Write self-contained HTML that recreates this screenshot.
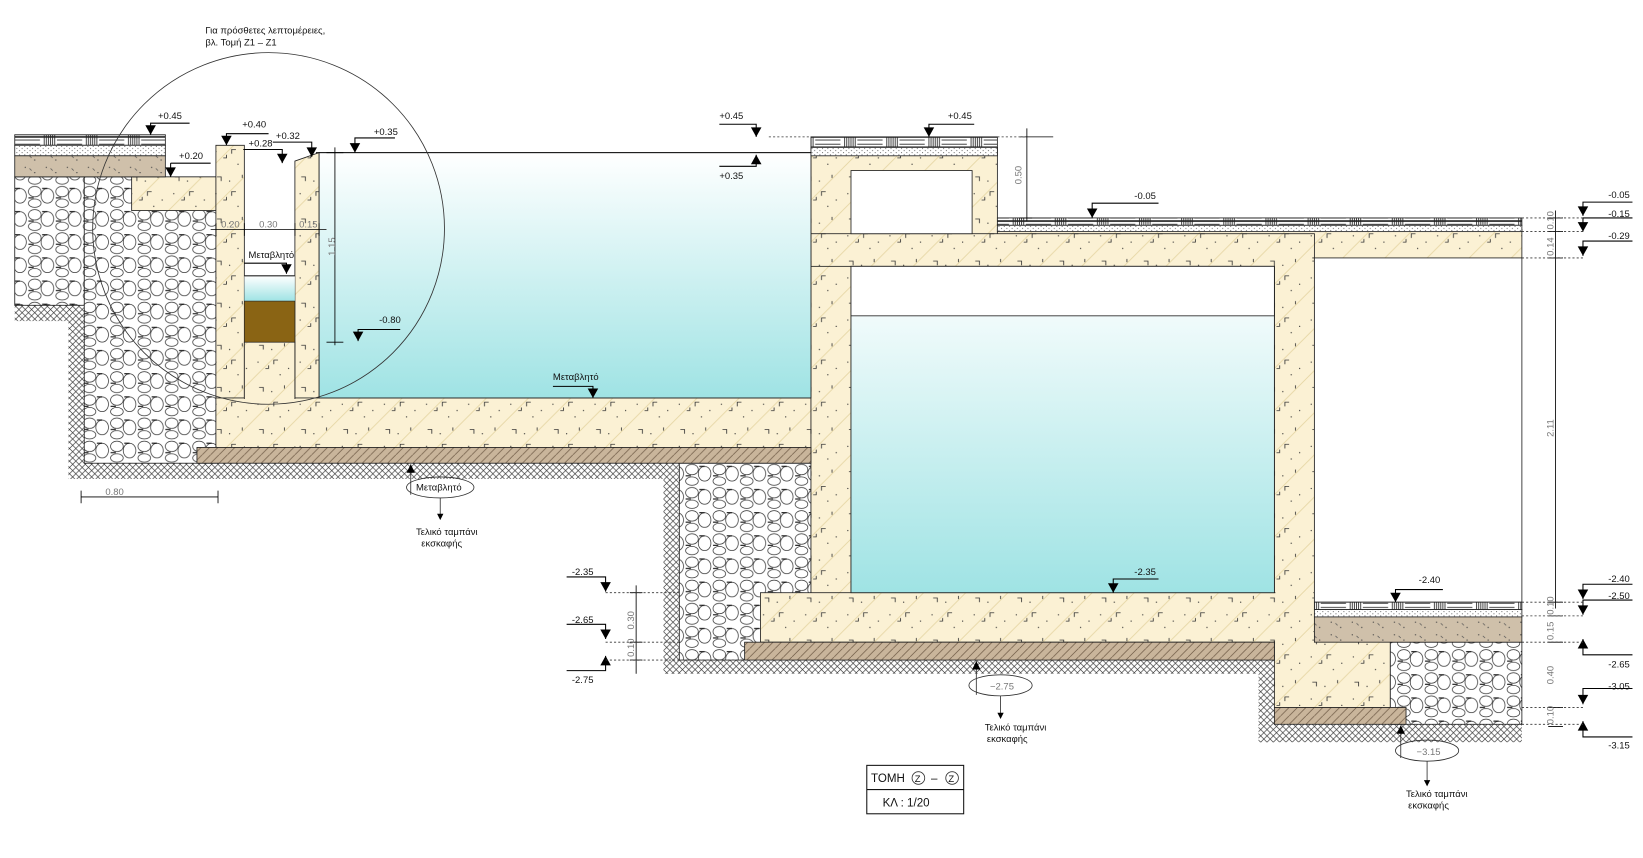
<!DOCTYPE html>
<html><head><meta charset="utf-8"><style>
html,body{margin:0;padding:0;background:#fff}
svg{display:block}
text{font-family:"Liberation Sans",sans-serif;font-size:9px;fill:#111}
.d{fill:#777}
</style></head><body>
<svg width="1643" height="858" viewBox="0 0 1560 815" preserveAspectRatio="none" xmlns="http://www.w3.org/2000/svg">
<defs>
<pattern id="conc" width="40" height="40" patternUnits="userSpaceOnUse">
<rect width="40" height="40" fill="#fbf1d4"/>
<path d="M0 40L40 0M-10 10L10 -10M30 50L50 30" stroke="#e6d6a4" stroke-width="0.8"/>
<path d="M6 8h4v4M24 22h-4v4M30 6v3M12 30h3v-3" stroke="#333" stroke-width="0.8" fill="none"/>
<circle cx="18" cy="12" r="0.6" fill="#333"/><circle cx="34" cy="30" r="0.6" fill="#333"/><circle cx="5" cy="24" r="0.6" fill="#333"/><circle cx="26" cy="36" r="0.6" fill="#333"/>
</pattern>
<pattern id="stone" width="26" height="22" patternUnits="userSpaceOnUse">
<rect width="26" height="22" fill="#fff"/>
<ellipse cx="7" cy="6" rx="6" ry="5" fill="none" stroke="#333" stroke-width="0.7"/>
<ellipse cx="19" cy="10" rx="6" ry="7" fill="none" stroke="#333" stroke-width="0.7"/>
<ellipse cx="7" cy="17" rx="6" ry="4" fill="none" stroke="#333" stroke-width="0.7"/>
<path d="M1 12h5M14 3h5" stroke="#111" stroke-width="1"/>
</pattern>
<pattern id="gnd" width="6" height="6" patternUnits="userSpaceOnUse">
<rect width="6" height="6" fill="#fff"/>
<path d="M0 6L6 0M0 0L6 6" stroke="#333" stroke-width="0.6"/>
</pattern>
<pattern id="slab" width="8" height="8" patternUnits="userSpaceOnUse">
<rect width="8" height="8" fill="#c9b59b"/>
<path d="M0 8L8 0" stroke="#6e5a45" stroke-width="0.7"/>
</pattern>
<pattern id="soil" width="20" height="12" patternUnits="userSpaceOnUse">
<rect width="20" height="12" fill="#cfc0aa"/>
<circle cx="4" cy="3" r="0.6" fill="#444"/><circle cx="13" cy="8" r="0.6" fill="#444"/><path d="M8 4l2 2" stroke="#555" stroke-width="0.7"/>
</pattern>
<pattern id="grav" width="5" height="4" patternUnits="userSpaceOnUse">
<rect width="5" height="4" fill="#fff"/><circle cx="1" cy="1" r="0.5" fill="#444"/><circle cx="3.5" cy="3" r="0.5" fill="#444"/>
</pattern>
<pattern id="tile" width="40" height="10" patternUnits="userSpaceOnUse">
<rect width="40" height="10" fill="#fff"/>
<path d="M0 0.5H40M0 9.5H40M2 0v10M4 0v10M6 0v10M8 0v10M10 0v10M12 0v10M14 3h24M14 7h24" stroke="#222" stroke-width="0.8"/>
</pattern>
<linearGradient id="wat" x1="0" y1="0" x2="0" y2="1"><stop offset="0" stop-color="#fff"/><stop offset="1" stop-color="#9fe3e4"/></linearGradient>
<path id="td" d="M-5 -9H5L0 0Z" fill="#000"/>
<path id="tu" d="M-5 9H5L0 0Z" fill="#000"/>
</defs>

<g fill="url(#gnd)">
<rect x="14" y="290" width="66" height="15"/><rect x="65" y="300" width="15" height="155"/><rect x="65" y="440" width="580" height="15"/>
<rect x="630" y="440" width="15" height="200"/><rect x="630" y="627" width="580" height="13"/>
<rect x="1195" y="627" width="15" height="78"/><rect x="1195" y="688" width="250" height="17"/>
</g>
<g fill="url(#stone)" stroke="#222" stroke-width="0.8">
<rect x="14" y="168" width="111" height="122"/><rect x="80" y="168" width="125" height="272"/>
<rect x="645" y="440" width="125" height="187"/><rect x="1320" y="610" width="125" height="78"/>
</g>
<g fill="url(#conc)" stroke="#222" stroke-width="0.8">
<rect x="125" y="168" width="80" height="32"/>
<path d="M205 425V138H232V425Z"/>
<path d="M280 425V153L303 145V425Z"/>
<rect x="205" y="378" width="565" height="47"/>
<rect x="770" y="140" width="38" height="470"/>
<rect x="770" y="140" width="177" height="90"/>
<rect x="947" y="218" width="498" height="27"/>
<rect x="770" y="222" width="478" height="31"/>
<rect x="1210" y="245" width="38" height="365"/>
<rect x="722" y="563" width="526" height="47"/>
<rect x="1210" y="600" width="110" height="72"/>
<rect x="232" y="325" width="48" height="100"/>
</g>
<rect x="771" y="223" width="475" height="29" fill="url(#conc)"/>
<rect x="771" y="564" width="476" height="45" fill="url(#conc)"/>
<rect x="1211" y="246" width="36" height="370" fill="url(#conc)"/>
<rect x="206" y="379" width="96" height="45" fill="url(#conc)"/>
<rect x="808" y="162" width="115" height="60" fill="#fff" stroke="#222" stroke-width="0.8"/>
<rect x="1248" y="245" width="197" height="327" fill="#fff" stroke="#222" stroke-width="0.8"/>
<rect x="303" y="145" width="467" height="233" fill="url(#wat)" stroke="#222" stroke-width="0.8"/>
<rect x="808" y="253" width="402" height="310" fill="url(#wat)" stroke="#222" stroke-width="0.8"/>
<rect x="808" y="253" width="402" height="47" fill="#fff" stroke="#222" stroke-width="0.8"/>
<rect x="232" y="262" width="48" height="24" fill="url(#wat)"/>
<rect x="232" y="286" width="48" height="39" fill="#8a6414" stroke="#222" stroke-width="0.6"/>
<line x1="232" y1="262" x2="280" y2="262" stroke="#222"/>
<g stroke="#222" stroke-width="0.8">
<rect x="14" y="128" width="143" height="10" fill="url(#tile)"/><rect x="14" y="138" width="143" height="10" fill="url(#grav)"/><rect x="14" y="148" width="143" height="20" fill="url(#soil)"/>
<rect x="770" y="130" width="177" height="10" fill="url(#tile)"/><rect x="770" y="140" width="177" height="8" fill="url(#grav)"/>
<rect x="947" y="207" width="498" height="7" fill="url(#tile)"/><rect x="947" y="214" width="498" height="6" fill="url(#grav)"/>
<rect x="1248" y="572" width="197" height="7" fill="url(#tile)"/><rect x="1248" y="579" width="197" height="7" fill="url(#grav)"/><rect x="1248" y="586" width="197" height="24" fill="url(#soil)"/>
<rect x="187" y="425" width="583" height="15" fill="url(#slab)"/><rect x="707" y="610" width="503" height="17" fill="url(#slab)"/><rect x="1210" y="672" width="125" height="16" fill="url(#slab)"/>
</g>
<line x1="300" y1="145" x2="770" y2="145" stroke="#111" stroke-width="1"/>
<circle cx="255" cy="217" r="167" fill="none" stroke="#333" stroke-width="0.8"/>
<text x="195" y="32">Για πρόσθετες λεπτομέρειες,</text><text x="195" y="43">βλ. Τομή Ζ1 – Ζ1</text>

<g stroke="#000" stroke-width="1" fill="none">
<path d="M180 117H143V128M162 155H200M162 155V168M255 127H215V138M231 142H268V155M259 135H296V149M375 131H337V145M683 118H718V130M683 158H718V147M925 118H882V130M1100 193H1037V207M380 313H340V324M232 250H272V260M525 367H563V378M1100 550H1057V563M1370 560H1325V572"/>
<path d="M1550 192H1503V205M1550 207H1503V220M1550 229H1503V243M1550 555H1503V569M1550 570H1503V584M1550 622H1503V607M1550 654H1503V669M1550 700H1503V685M538 548H575V562M538 593H575V607M538 637H575V623"/>
</g>
<g>
<use href="#td" x="143" y="128"/><use href="#td" x="162" y="168"/><use href="#td" x="215" y="138"/><use href="#td" x="268" y="155"/><use href="#td" x="296" y="149"/><use href="#td" x="337" y="145"/><use href="#td" x="718" y="130"/><use href="#tu" x="718" y="147"/><use href="#td" x="882" y="130"/><use href="#td" x="1037" y="207"/><use href="#td" x="340" y="324"/><use href="#td" x="272" y="260"/><use href="#td" x="563" y="378"/><use href="#td" x="1057" y="563"/><use href="#td" x="1325" y="572"/>
<use href="#td" x="1503" y="205"/><use href="#td" x="1503" y="220"/><use href="#td" x="1503" y="243"/><use href="#td" x="1503" y="569"/><use href="#td" x="1503" y="584"/><use href="#tu" x="1503" y="607"/><use href="#td" x="1503" y="669"/><use href="#tu" x="1503" y="685"/>
<use href="#td" x="575" y="562"/><use href="#td" x="575" y="607"/><use href="#tu" x="575" y="623"/>
</g>
<text x="150" y="113">+0.45</text><text x="170" y="151">+0.20</text><text x="230" y="121">+0.40</text><text x="236" y="139">+0.28</text><text x="262" y="132">+0.32</text><text x="355" y="128">+0.35</text>
<text x="683" y="113">+0.45</text><text x="683" y="170">+0.35</text><text x="900" y="113">+0.45</text><text x="1077" y="189">-0.05</text><text x="360" y="307">-0.80</text>
<text x="236" y="245">Μεταβλητό</text><text x="525" y="361">Μεταβλητό</text><text x="1077" y="546">-2.35</text><text x="1347" y="554">-2.40</text>
<text x="1527" y="188">-0.05</text><text x="1527" y="206">-0.15</text><text x="1527" y="227">-0.29</text><text x="1527" y="553">-2.40</text><text x="1527" y="569">-2.50</text><text x="1527" y="634">-2.65</text><text x="1527" y="655">-3.05</text><text x="1527" y="711">-3.15</text>
<text x="543" y="546">-2.35</text><text x="543" y="592">-2.65</text><text x="543" y="649">-2.75</text>

<g stroke="#000" stroke-width="0.8" fill="none">
<path d="M318 140V328M310 145H326M310 325H326M200 218H310M205 212V224M232 212V224M280 212V224M303 212V224"/>
<path d="M975 122V210M968 130H1000M968 207H980M1477 200V578M1470 207H1484M1470 220H1484M1470 245H1484M1470 572H1484M1470 585H1484M1470 610H1484M1470 672H1484M1470 690H1484"/>
<path d="M77 472H207M77 466V478M207 466V478M604 556V640M598 563H610M598 610H610M598 627H610"/>
</g>
<g stroke="#333" stroke-width="0.8" stroke-dasharray="2 2" fill="none">
<path d="M730 130H770M947 130H975M1445 207H1503M1445 220H1503M1445 245H1503M1445 572H1503M1445 585H1503M1445 610H1503M1445 672H1503M1445 688H1503M575 563H645M575 610H645M575 627H707"/>
</g>
<g class="d">
<text class="d" x="210" y="216">0.20</text><text class="d" x="246" y="216">0.30</text><text class="d" x="284" y="216">0.15</text>
<text class="d" x="100" y="470">0.80</text>
<text class="d" transform="translate(318,243) rotate(-90)">1.15</text>
<text class="d" transform="translate(970,175) rotate(-90)">0.50</text>
<text class="d" transform="translate(1475,218) rotate(-90)">0.10</text><text class="d" transform="translate(1475,243) rotate(-90)">0.14</text>
<text class="d" transform="translate(1475,415) rotate(-90)">2.11</text><text class="d" transform="translate(1475,584) rotate(-90)">0.10</text>
<text class="d" transform="translate(1475,608) rotate(-90)">0.15</text><text class="d" transform="translate(1475,650) rotate(-90)">0.40</text><text class="d" transform="translate(1475,688) rotate(-90)">0.10</text>
<text class="d" transform="translate(602,598) rotate(-90)">0.30</text><text class="d" transform="translate(602,624) rotate(-90)">0.10</text>
</g>

<g stroke="#333" stroke-width="0.8" fill="none">
<ellipse cx="418" cy="463" rx="32" ry="10"/><path d="M390 470V441M418 473V492M927 660V628M950 661V681M1330 720V689M1355 723V745"/>
<ellipse cx="950" cy="651" rx="30" ry="10"/><ellipse cx="1355" cy="713" rx="30" ry="10"/>
</g>
<path d="M386 449H394L390 441ZM415 488H421L418 494ZM923 636H931L927 628ZM947 677H953L950 683ZM1326 697H1334L1330 689ZM1352 741H1358L1355 747Z" fill="#000"/>
<text x="395" y="466">Μεταβλητό</text><text x="395" y="508">Τελικό ταμπάνι</text><text x="400" y="519">εκσκαφής</text>
<text class="d" x="940" y="655">−2.75</text><text x="935" y="694">Τελικό ταμπάνι</text><text x="937" y="705">εκσκαφής</text>
<text class="d" x="1345" y="717">−3.15</text><text x="1335" y="757">Τελικό ταμπάνι</text><text x="1337" y="768">εκσκαφής</text>

<rect x="823" y="727" width="92" height="46" fill="#fff" stroke="#111" stroke-width="1"/>
<line x1="823" y1="750" x2="915" y2="750" stroke="#111"/>
<text x="827" y="743" style="font-size:11px">ΤΟΜΗ</text>
<circle cx="872" cy="739" r="6" fill="none" stroke="#333" stroke-width="0.8"/><text x="868.5" y="743" style="font-size:9px">Z</text>
<text x="884" y="743" style="font-size:11px">–</text>
<circle cx="904" cy="739" r="6" fill="none" stroke="#333" stroke-width="0.8"/><text x="900.5" y="743" style="font-size:9px">Z</text>
<text x="838" y="766" style="font-size:11px">ΚΛ  :  1/20</text>
</svg>
</body></html>
